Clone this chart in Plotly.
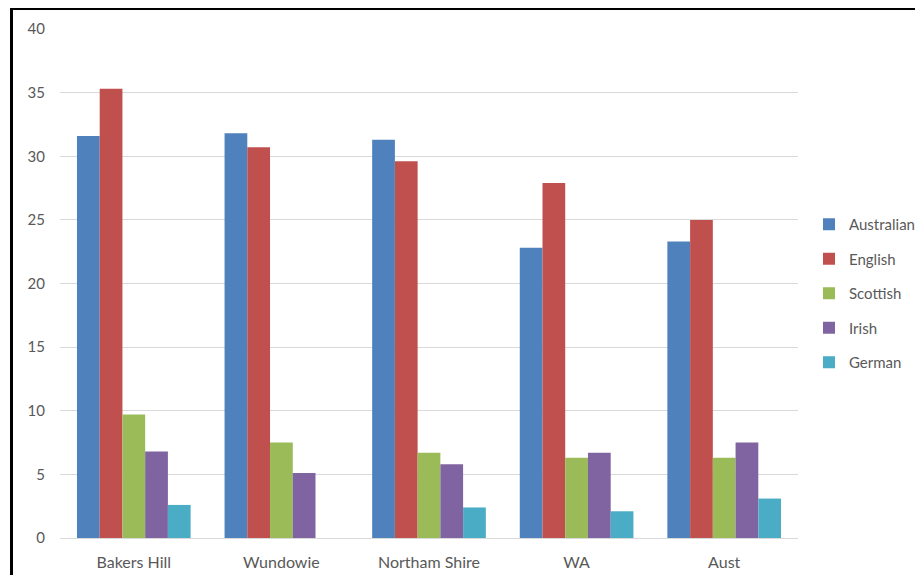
import plotly.graph_objects as go

categories = ["Bakers Hill", "Wundowie", "Northam Shire", "WA", "Aust"]
australian = [31.6, 31.8, 31.3, 22.8, 23.3]
english = [35.3, 30.7, 29.6, 27.9, 25.0]
scottish = [9.7, 7.5, 6.7, 6.3, 6.3]
irish = [6.8, 5.1, 5.8, 6.7, 7.5]
german = [2.6, 0, 2.4, 2.1, 3.1]

series = [
    ("Australian", australian, "#4F81BD"),
    ("English", english, "#C0504D"),
    ("Scottish", scottish, "#9BBB59"),
    ("Irish", irish, "#8064A2"),
    ("German", german, "#4BACC6"),
]

fig = go.Figure()
for i, (name, vals, col) in enumerate(series):
    fig.add_trace(go.Bar(name=name, x=categories, y=vals, marker_color=col,
                         marker_line_width=0, legendgroup=f"g{i}"))

# page body has an 8px margin, so the figure is offset by 8px on screen;
# keep the page within the window so no scrollbars appear
OFF = 8
W, H = 923 - 2 * OFF, 583 - 2 * OFF
L, T = 60 - OFF, 29 - OFF
R = W - (798 - OFF)
B = H - (538 - OFF)
pw, ph = W - L - R, H - T - B

def px(x):  # screen x -> paper
    return (x - OFF - L) / pw

def py(y):  # screen y -> paper
    return (H - B - (y - OFF)) / ph

# frame: left and top edges only
fig.add_shape(type="line", xref="paper", yref="paper",
              x0=px(11.5), x1=px(11.5), y0=py(600), y1=py(9),
              line=dict(color="#000000", width=3), layer="below")
fig.add_shape(type="line", xref="paper", yref="paper",
              x0=px(10), x1=px(940), y0=py(9), y1=py(9),
              line=dict(color="#000000", width=2), layer="below")

fig.update_layout(
    width=W, height=H,
    margin=dict(l=L, r=R, t=T, b=B, autoexpand=False),
    barmode="group", bargap=0.23, bargroupgap=0,
    plot_bgcolor="white", paper_bgcolor="white",
    font=dict(family="Lato, Open Sans, sans-serif", size=16, color="#595959"),
    legend=dict(x=px(809), y=py(208), xanchor="left", yanchor="top",
                font=dict(size=15, color="#595959"), tracegroupgap=12,
                itemwidth=30, bgcolor="rgba(0,0,0,0)"),
    xaxis=dict(showgrid=False, showline=True, linecolor="#d9d9d9", linewidth=1,
               ticks="", tickfont=dict(size=16, color="#595959"),
               ticklabelstandoff=10, automargin=False),
    yaxis=dict(range=[0, 40], dtick=5, showgrid=True, gridcolor="#d9d9d9",
               gridwidth=1, zeroline=False, ticks="", showline=False,
               tickfont=dict(size=15, color="#595959"), ticklabelstandoff=14,
               automargin=False),
)

fig.write_html("out.html")
